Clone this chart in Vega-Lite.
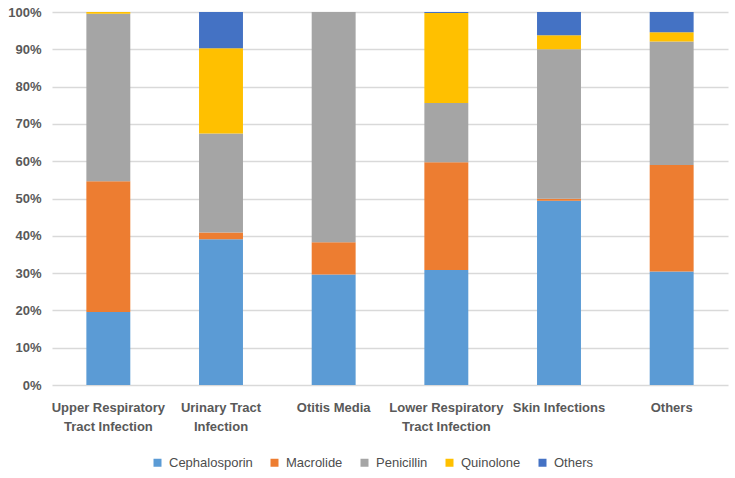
{
  "$schema": "https://vega.github.io/schema/vega-lite/v6.json",
  "width": 676,
  "height": 373,
  "autosize": {"type": "none"},
  "padding": {"left": 52, "top": 12, "right": 7, "bottom": 93},
  "background": "white",
  "config": {
    "view": {"stroke": null},
    "font": "Liberation Sans, Arial, sans-serif"
  },
  "data": {
    "values": [
      {"condition": "Upper Respiratory Tract Infection", "drug": "Cephalosporin", "share": 19.6},
      {"condition": "Upper Respiratory Tract Infection", "drug": "Macrolide", "share": 35.0},
      {"condition": "Upper Respiratory Tract Infection", "drug": "Penicillin", "share": 44.9},
      {"condition": "Upper Respiratory Tract Infection", "drug": "Quinolone", "share": 0.5},
      {"condition": "Upper Respiratory Tract Infection", "drug": "Others", "share": 0.0},
      {"condition": "Urinary Tract Infection", "drug": "Cephalosporin", "share": 39.1},
      {"condition": "Urinary Tract Infection", "drug": "Macrolide", "share": 1.8},
      {"condition": "Urinary Tract Infection", "drug": "Penicillin", "share": 26.5},
      {"condition": "Urinary Tract Infection", "drug": "Quinolone", "share": 22.9},
      {"condition": "Urinary Tract Infection", "drug": "Others", "share": 9.7},
      {"condition": "Otitis Media", "drug": "Cephalosporin", "share": 29.6},
      {"condition": "Otitis Media", "drug": "Macrolide", "share": 8.7},
      {"condition": "Otitis Media", "drug": "Penicillin", "share": 61.7},
      {"condition": "Otitis Media", "drug": "Quinolone", "share": 0.0},
      {"condition": "Otitis Media", "drug": "Others", "share": 0.0},
      {"condition": "Lower Respiratory Tract Infection", "drug": "Cephalosporin", "share": 30.8},
      {"condition": "Lower Respiratory Tract Infection", "drug": "Macrolide", "share": 28.9},
      {"condition": "Lower Respiratory Tract Infection", "drug": "Penicillin", "share": 15.9},
      {"condition": "Lower Respiratory Tract Infection", "drug": "Quinolone", "share": 24.1},
      {"condition": "Lower Respiratory Tract Infection", "drug": "Others", "share": 0.3},
      {"condition": "Skin Infections", "drug": "Cephalosporin", "share": 49.4},
      {"condition": "Skin Infections", "drug": "Macrolide", "share": 0.5},
      {"condition": "Skin Infections", "drug": "Penicillin", "share": 40.1},
      {"condition": "Skin Infections", "drug": "Quinolone", "share": 3.8},
      {"condition": "Skin Infections", "drug": "Others", "share": 6.2},
      {"condition": "Others", "drug": "Cephalosporin", "share": 30.4},
      {"condition": "Others", "drug": "Macrolide", "share": 28.6},
      {"condition": "Others", "drug": "Penicillin", "share": 33.1},
      {"condition": "Others", "drug": "Quinolone", "share": 2.5},
      {"condition": "Others", "drug": "Others", "share": 5.4}
    ]
  },
  "transform": [
    {"calculate": "indexof(['Cephalosporin', 'Macrolide', 'Penicillin', 'Quinolone', 'Others'], datum.drug)", "as": "drug_order"}
  ],
  "mark": {"type": "bar"},
  "encoding": {
    "x": {
      "field": "condition",
      "type": "nominal",
      "sort": null,
      "scale": {"paddingInner": 0.61, "paddingOuter": 0.305},
      "axis": {
        "title": null,
        "labelAngle": 0,
        "domain": false,
        "ticks": false,
        "labelPadding": 16,
        "labelFontSize": 13,
        "labelFontWeight": "bold",
        "labelColor": "#595959",
        "labelLineHeight": 19,
        "labelBaseline": "top",
        "labelOverlap": false,
        "labelLimit": 200,
        "labelExpr": "datum.value == 'Upper Respiratory Tract Infection' ? ['Upper Respiratory', 'Tract Infection'] : datum.value == 'Urinary Tract Infection' ? ['Urinary Tract', 'Infection'] : datum.value == 'Lower Respiratory Tract Infection' ? ['Lower Respiratory', 'Tract Infection'] : datum.value"
      }
    },
    "y": {
      "field": "share",
      "type": "quantitative",
      "stack": "normalize",
      "scale": {"domain": [0, 1], "nice": false},
      "axis": {
        "title": null,
        "format": ".0%",
        "values": [0, 0.1, 0.2, 0.3, 0.4, 0.5, 0.6, 0.7, 0.8, 0.9, 1],
        "labelOverlap": false,
        "domain": false,
        "ticks": false,
        "labelPadding": 11,
        "labelFontSize": 13,
        "labelFontWeight": "bold",
        "labelColor": "#595959",
        "gridColor": "#d9d9d9",
        "gridWidth": 1.5
      }
    },
    "color": {
      "field": "drug",
      "type": "nominal",
      "sort": ["Cephalosporin", "Macrolide", "Penicillin", "Quinolone", "Others"],
      "scale": {
        "domain": ["Cephalosporin", "Macrolide", "Penicillin", "Quinolone", "Others"],
        "range": ["#5b9bd5", "#ed7d31", "#a5a5a5", "#ffc000", "#4472c4"]
      },
      "legend": {
        "title": null,
        "orient": "none",
        "direction": "horizontal",
        "legendX": 99,
        "legendY": 444,
        "symbolType": "square",
        "symbolSize": 64,
        "symbolStrokeWidth": 0,
        "labelFontSize": 13,
        "labelColor": "#4d4d4d",
        "labelOffset": 5,
        "columnPadding": 15
      }
    },
    "order": {"field": "drug_order", "type": "quantitative"}
  }
}
